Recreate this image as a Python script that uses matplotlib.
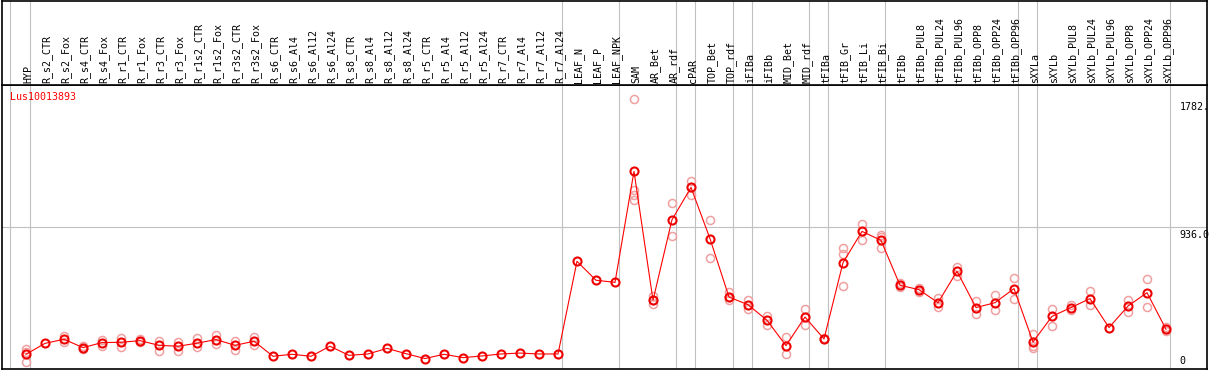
import numpy as np
import matplotlib.pyplot as plt

gene = "Lus10013893"

samples = ["HYP", "R_s2_CTR", "R_s2_Fox", "R_s4_CTR", "R_s4_Fox", "R_r1_CTR", "R_r1_Fox",
           "R_r3_CTR", "R_r3_Fox", "R_r1s2_CTR", "R_r1s2_Fox", "R_r3s2_CTR", "R_r3s2_Fox",
           "R_s6_CTR", "R_s6_Al4", "R_s6_Al12", "R_s6_Al24", "R_s8_CTR", "R_s8_Al4",
           "R_s8_Al12", "R_s8_Al24", "R_r5_CTR", "R_r5_Al4", "R_r5_Al12", "R_r5_Al24",
           "R_r7_CTR", "R_r7_Al4", "R_r7_Al12", "R_r7_Al24", "LEAF_N", "LEAF_P", "LEAF_NPK",
           "SAM", "AR_Bet", "AR_rdf", "cPAR", "TOP_Bet", "TOP_rdf", "iFIBa", "iFIBb",
           "MID_Bet", "MID_rdf", "tFIBa", "tFIB_Gr", "tFIB_Li", "tFIB_Bi", "tFIBb",
           "tFIBb_PUL8", "tFIBb_PUL24", "tFIBb_PUL96", "tFIBb_OPP8", "tFIBb_OPP24",
           "tFIBb_OPP96", "sXYLa", "sXYLb", "sXYLb_PUL8", "sXYLb_PUL24", "sXYLb_PUL96",
           "sXYLb_OPP8", "sXYLb_OPP24", "sXYLb_OPP96"]

means = [97, 169, 196, 141, 174, 176, 187, 156, 150, 170, 194, 156, 183,
         84, 97, 84, 150, 90, 99, 136, 101, 69, 97, 75, 86, 99, 105, 99, 99,
         710, 585, 571, 1303, 453, 984, 1197, 859, 474, 424, 321, 154, 343, 198,
         701, 907, 848, 552, 523, 437, 644, 405, 437, 530, 178, 347, 405, 464,
         273, 415, 503, 262]

replicates = [[134, 112, 46], [], [215, 178], [150, 132], [189, 154], [207, 145],
              [196, 178], [185, 117], [181, 117], [204, 145], [222, 167], [185, 123],
              [211, 156], [], [], [], [], [], [], [], [], [], [], [], [], [], [], [], [],
              [], [], [], [1782, 1180, 1145, 1112], [479, 426, 453], [1097, 874],
              [1237, 1149], [985, 734], [505, 453, 474], [453, 398], [349, 288],
              [209, 101], [398, 293], [195, 203], [800, 756, 545], [958, 853],
              [883, 870, 800], [565, 540], [535, 510], [471, 409], [672, 611],
              [446, 365], [486, 387], [602, 459], [233, 152, 141], [398, 283],
              [420, 390], [512, 424], [], [453, 376], [596, 409], [277, 250]]

group_ends = [0, 28, 31, 34, 35, 37, 38, 41, 42, 45, 52, 53, 60]

y_ticks = [0, 936, 1782]
y_tick_labels = ["0", "936.0", "1782."]
y_max = 1872

W, H = 1209, 370
fig = plt.figure(figsize=(W / 100, H / 100), dpi=100)

# pixel layout
left, right, top_line, bottom = 2, 1207, 85, 369
x0 = -24 / 19.0
x1 = (right - 26) / 19.0

ax = fig.add_axes([left / W, (H - bottom) / H, (right - left) / W, (bottom - top_line) / H])
hd = fig.add_axes([left / W, (H - top_line) / H, (right - left) / W, (top_line - 0.5) / H])

gray = "#c0c0c0"
for a in (ax, hd):
    a.set_xlim(x0, x1)
    a.set_xticks([])
    a.set_yticks([])
    for s in a.spines.values():
        s.set_color("black")
        s.set_linewidth(1.2)
    a.axvline(-0.85, color=gray, lw=0.8, zorder=0)
    for g in group_ends:
        a.axvline(g + 0.22, color=gray, lw=0.8, zorder=0)

ax.set_ylim(0, y_max)
ax.axhline(936, color=gray, lw=0.8, zorder=0)

x = np.arange(len(samples))
for i in range(len(samples)):
    if replicates[i]:
        ax.plot([i] * len(replicates[i]), replicates[i], 'o', ms=5.8, mfc='none',
                mec='#f0a0a0', mew=1.1, zorder=2)

ax.plot(x, means, '-', color='red', lw=0.8, zorder=3)
ax.plot(x, means, 'o', ms=5.8, mfc='none', mec='#ee0000', mew=1.5, zorder=4)

mono = "DejaVu Sans Mono"
for v, lab in zip(y_ticks, y_tick_labels):
    if v == 0:
        ax.annotate(lab, (60.7, v), xytext=(0, 3), textcoords='offset pixels',
                    ha='left', va='bottom', fontsize=7.2, family=mono)
    else:
        ax.annotate(lab, (60.7, v), xytext=(0, -3), textcoords='offset pixels',
                    ha='left', va='top', fontsize=7.2, family=mono)

ax.annotate(gene, (x0, y_max), xytext=(8, -12), textcoords='offset pixels',
            ha='left', va='center', fontsize=7.2, family=mono, color='red')

hd.set_ylim(0, top_line)
for i, s in enumerate(samples):
    hd.text(i + 0.1, 2, s, rotation=90, ha='center', va='bottom',
            fontsize=7.2, family=mono)

fig.savefig("out.png", dpi=100)
